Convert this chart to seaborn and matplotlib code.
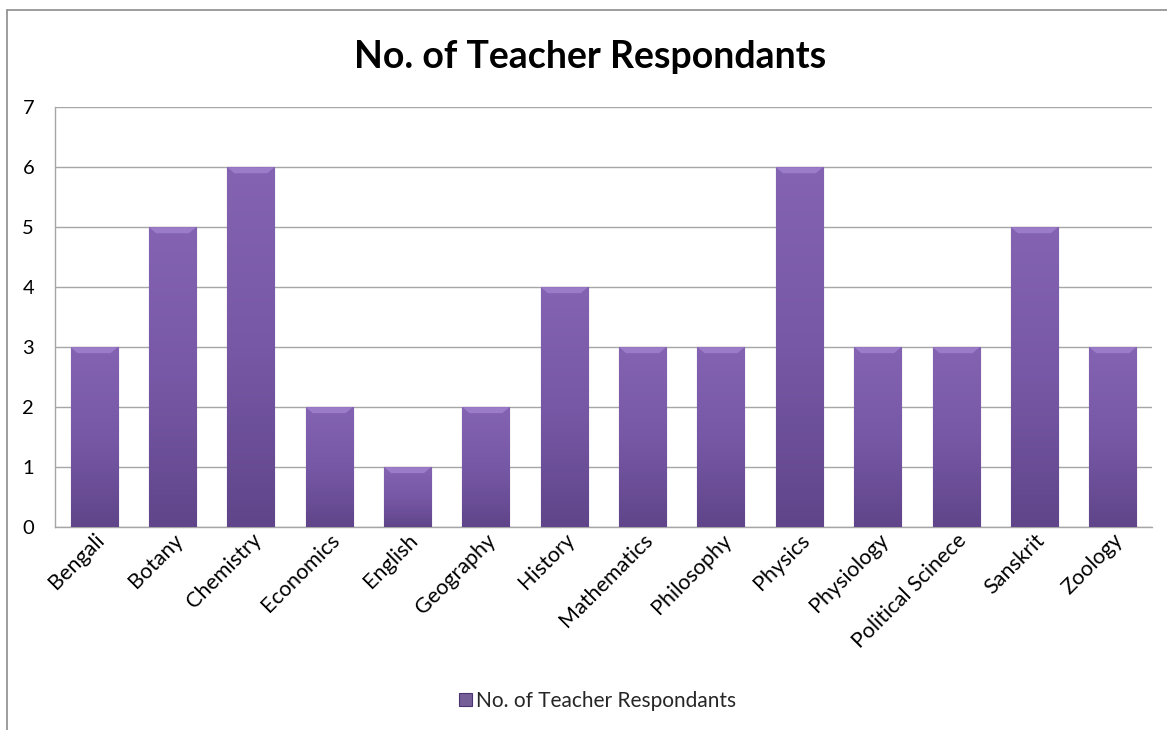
import matplotlib
matplotlib.use("Agg")
import matplotlib.pyplot as plt
import matplotlib.lines as mlines
from matplotlib.colors import LinearSegmentedColormap
import numpy as np
import seaborn as sns
import pandas as pd

# Datos del gráfico
subjects = ["Bengali", "Botany", "Chemistry", "Economics", "English", "Geography",
            "History", "Mathematics", "Philosophy", "Physics", "Physiology",
            "Political Scinece", "Sanskrit", "Zoology"]
respondents = [3, 5, 6, 2, 1, 2, 4, 3, 3, 6, 3, 3, 5, 3]
series_name = "No. of Teacher Respondants"

df = pd.DataFrame({"Subject": subjects, "Count": respondents})

sns.set_theme(style="white")
plt.rcParams['font.family'] = ['Lato', 'DejaVu Sans']

fig = plt.figure(figsize=(11.67, 7.3), dpi=100)
ax = fig.add_axes([0.0471, 0.278, 0.940, 0.575])

bar_color = "#7455A0"
sns.barplot(data=df, x="Subject", y="Count", color=bar_color, width=0.6,
            edgecolor="#4A3470", linewidth=0.8, ax=ax, label=series_name, zorder=3)

# Degradado vertical dentro de cada barra (más oscuro abajo)
grad_cmap = LinearSegmentedColormap.from_list("purp", ["#60458A", "#7758A6", "#8363B2"])
grad = np.linspace(0, 1, 256).reshape(-1, 1)
for patch in ax.patches:
    x0, y0 = patch.get_x(), patch.get_y()
    w, h = patch.get_width(), patch.get_height()
    im = ax.imshow(grad, cmap=grad_cmap, origin="lower", aspect="auto",
                   extent=[x0, x0 + w, y0, y0 + h], zorder=3.5)
    im.set_clip_path(patch)
    # bisel claro en la parte superior
    ax.fill([x0, x0 + w, x0 + w * 0.85, x0 + w * 0.15],
            [y0 + h, y0 + h, y0 + h - 0.1, y0 + h - 0.1],
            color="#9B7CC8", zorder=3.6, linewidth=0)

ax.set_ylim(0, 7)
ax.set_yticks(range(0, 8))
ax.set_xlim(-0.5, len(subjects) - 0.5)
ax.yaxis.grid(True, color="#A6A6A6", linewidth=1.0, zorder=0)
ax.set_axisbelow(True)

for side in ["top", "right"]:
    ax.spines[side].set_visible(False)
for side in ["left", "bottom"]:
    ax.spines[side].set_color("#A6A6A6")
    ax.spines[side].set_linewidth(1.0)

ax.set_xlabel("")
ax.set_ylabel("")
ax.tick_params(axis="y", labelsize=14.5, pad=15, length=0, colors="black")
ax.tick_params(axis="x", labelsize=15.5, length=0, pad=2, colors="black")
plt.setp(ax.get_xticklabels(), rotation=45, ha="right", rotation_mode="anchor")

fig.text(0.506, 0.922, series_name, ha="center", va="center",
         fontsize=27, fontweight="bold", color="black")

leg = ax.legend(loc="center", bbox_to_anchor=(0.512, 0.040), bbox_transform=fig.transFigure,
                frameon=False, fontsize=15, handlelength=0.6, handleheight=0.6,
                handletextpad=0.2)

# Marco exterior del gráfico (recortado a la derecha y abajo)
fig.add_artist(mlines.Line2D([7 / 1167, 7 / 1167], [0, 1 - 10 / 730],
                             transform=fig.transFigure, color="#8C8C8C", linewidth=1.2))
fig.add_artist(mlines.Line2D([7 / 1167, 1], [1 - 10 / 730, 1 - 10 / 730],
                             transform=fig.transFigure, color="#8C8C8C", linewidth=1.2))

fig.savefig("out.png", dpi=100)
